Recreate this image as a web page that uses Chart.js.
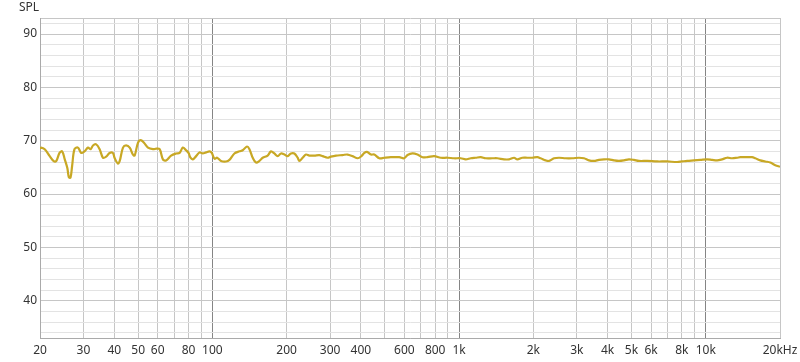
<!DOCTYPE html>
<html>
<head>
<meta charset="utf-8">
<script src="https://cdn.jsdelivr.net/npm/chart.js@4.4.0/dist/chart.umd.min.js"></script>
<style>
  html, body { margin: 0; padding: 0; background: #ffffff; }
  #wrap { width: 800px; height: 362px; position: relative; }
</style>
</head>
<body>
<div id="wrap"><canvas id="c" width="800" height="362"></canvas></div>
<script>
// ---- Data ----
const freqHz = [20, 20.2, 20.9, 21.9, 22.8, 23.3, 24.0, 24.6, 25.2, 25.8, 26.2, 26.6, 27.0, 27.6, 28.5, 29.4,
  30.3, 31.3, 32.1, 32.8, 33.8, 34.9, 36.0, 37.1, 38.3, 39.5, 40.1, 41.4, 42.1, 43.4, 44.7, 46.2, 47.6, 48.4,
  49.9, 51.2, 52.8, 54.8, 57.4, 59.2, 61.1, 63.0, 64.9, 68.0, 71.3, 73.6, 75.9, 78.2, 80.0, 81.5, 83.3, 85.9,
  88.6, 91.4, 94.3, 97.3, 99.4, 102, 104.5, 108.4, 113.6, 117.2, 122.8, 128.7, 132.7, 138.1, 141.3, 145.7,
  150.2, 155.1, 159.9, 167.5, 172.8, 178.3, 183.9, 189.7, 195.8, 201.9, 208.2, 214.9, 221.6, 225.2, 232.2,
  239.5, 247.2, 259, 271.3, 279.8, 293, 302, 317, 337, 353, 370, 388, 402, 413, 423, 439, 453, 475, 497, 529,
  572, 599, 618, 647, 678, 711, 744, 792, 843, 897, 955, 1016, 1064, 1115, 1168, 1224, 1282, 1365, 1430, 1522,
  1595, 1671, 1723, 1805, 1891, 1981, 2076, 2141, 2243, 2315, 2426, 2541, 2702, 2877, 3062, 3209, 3362, 3522,
  3690, 3866, 4050, 4244, 4446, 4658, 4880, 5113, 5357, 5790, 6354, 6975, 7656, 8021, 8404, 8948, 9514, 10128,
  10610, 11116, 11646, 12202, 12784, 13393, 13811, 14470, 15404, 15887, 16644, 17438, 18270, 19141, 20000];
const splDb = [68.5, 68.7, 68.4, 67.1, 66.1, 66.2, 67.7, 68.0, 66.5, 64.9, 63.1, 63.1, 65.3, 68.4, 68.7, 67.7,
  68.0, 68.7, 68.4, 69.1, 69.3, 68.4, 66.8, 67.0, 67.7, 67.7, 66.8, 65.7, 66.2, 68.7, 69.1, 68.7, 67.4, 67.2,
  69.6, 70.1, 69.6, 68.7, 68.4, 68.5, 68.4, 66.5, 66.3, 67.2, 67.6, 67.7, 68.7, 68.2, 67.7, 66.8, 66.5, 67.1,
  67.8, 67.6, 67.8, 68.0, 67.7, 66.6, 66.8, 66.2, 66.1, 66.4, 67.6, 68.0, 68.2, 68.9, 68.4, 66.8,
  65.9, 66.2, 66.8, 67.2, 68.0, 67.6, 67.1, 67.6, 67.4, 67.1, 67.6, 67.6, 66.8, 66.2, 66.8,
  67.4, 67.2, 67.2, 67.3, 67.1, 66.8, 67.0, 67.2, 67.3, 67.4, 67.1, 66.7, 67.1, 67.7, 67.9, 67.4, 67.4, 66.7, 66.8, 66.9,
  66.9, 66.7, 67.3, 67.6, 67.4, 66.9, 66.9, 67.1, 66.8, 66.8, 66.7, 66.7, 66.5, 66.7, 66.8, 66.9, 66.7, 66.7, 66.7, 66.5,
  66.5, 66.8, 66.5, 66.8, 66.8, 66.8, 66.9, 66.7, 66.3, 66.2, 66.7, 66.8, 66.7, 66.7, 66.8, 66.7, 66.3, 66.2,
  66.4, 66.5, 66.5, 66.3, 66.2, 66.3, 66.5, 66.4, 66.2, 66.2, 66.1, 66.1, 66.0, 66.1, 66.2, 66.3, 66.4, 66.5,
  66.4, 66.3, 66.5, 66.8, 66.7, 66.8, 66.9, 66.9, 66.9, 66.7, 66.3, 66.1, 65.9, 65.4, 65.1];

const xGridTicks = [20, 30, 40, 50, 60, 70, 80, 90, 100, 200, 300, 400, 500, 600, 700, 800, 900, 1000,
  2000, 3000, 4000, 5000, 6000, 7000, 8000, 9000, 10000, 20000];
const xTickLabels = {20: '20', 30: '30', 40: '40', 50: '50', 60: '60', 80: '80', 100: '100', 200: '200',
  300: '300', 400: '400', 600: '600', 800: '800', 1000: '1k', 2000: '2k', 3000: '3k', 4000: '4k', 5000: '5k',
  6000: '6k', 8000: '8k', 10000: '10k', 20000: '20kHz'};
const yMin = 33, yMax = 93;
const yGridTicks = [33, 34, 36, 38, 40, 42, 44, 46, 48, 50, 52, 54, 56, 58, 60, 62, 64, 66, 68, 70, 72, 74,
  76, 78, 80, 82, 84, 86, 88, 90, 92, 93];
const yTickLabels = [40, 50, 60, 70, 80, 90];
const yAxisTitle = 'SPL';

const FONT = '"Noto Sans", "Open Sans", sans-serif';

const titlePlugin = {
  id: 'splTitle',
  afterDraw(chart) {
    const ctx = chart.ctx;
    ctx.save();
    ctx.font = '12px ' + FONT;
    ctx.fillStyle = '#333333';
    ctx.textAlign = 'left';
    ctx.textBaseline = 'middle';
    ctx.fillText(yAxisTitle, 19, 8);
    ctx.restore();
  }
};

new Chart(document.getElementById('c'), {
  type: 'line',
  data: {
    datasets: [{
      data: freqHz.map((f, i) => ({ x: f, y: splDb[i] })),
      borderColor: '#c8a825',
      borderWidth: 2.2,
      pointRadius: 0,
      tension: 0.35,
      fill: false
    }]
  },
  options: {
    responsive: false,
    animation: false,
    devicePixelRatio: 1,
    layout: { padding: { top: 18, right: 20, left: 0, bottom: 0 } },
    plugins: { legend: { display: false }, tooltip: { enabled: false } },
    scales: {
      x: {
        type: 'logarithmic',
        min: 20, max: 20000,
        afterBuildTicks(scale) { scale.ticks = xGridTicks.map(v => ({ value: v })); },
        afterFit(scale) { scale.height = 24; scale.paddingRight = 0; scale.paddingLeft = 0; },
        ticks: {
          autoSkip: false, maxRotation: 0, minRotation: 0, padding: 5,
          color: '#333333', font: { family: FONT, size: 12 },
          callback: (v) => xTickLabels[v] !== undefined ? xTickLabels[v] : ''
        },
        grid: {
          drawTicks: false,
          lineWidth: 1,
          color: (ctx) => {
            const v = ctx.tick && ctx.tick.value;
            if (v === 100 || v === 1000 || v === 10000) return '#858585';
            return '#c6c6c6';
          }
        },
        border: { color: '#aaaaaa' }
      },
      y: {
        type: 'linear',
        min: yMin, max: yMax,
        afterBuildTicks(scale) { scale.ticks = yGridTicks.map(v => ({ value: v })); },
        afterFit(scale) { scale.width = 40; scale.paddingTop = 0; scale.paddingBottom = 0; },
        ticks: {
          autoSkip: false, padding: 3,
          color: '#333333', font: { family: FONT, size: 12 },
          callback: (v) => yTickLabels.includes(v) ? String(v) : ''
        },
        grid: {
          drawTicks: false,
          lineWidth: 1,
          color: (ctx) => {
            const v = ctx.tick && ctx.tick.value;
            if (v === yMin || v === yMax) return '#c6c6c6';
            if (yTickLabels.includes(v)) return '#c6c6c6';
            return '#e3e3e3';
          }
        },
        border: { color: '#aaaaaa' }
      }
    }
  },
  plugins: [titlePlugin]
});
</script>
</body>
</html>
